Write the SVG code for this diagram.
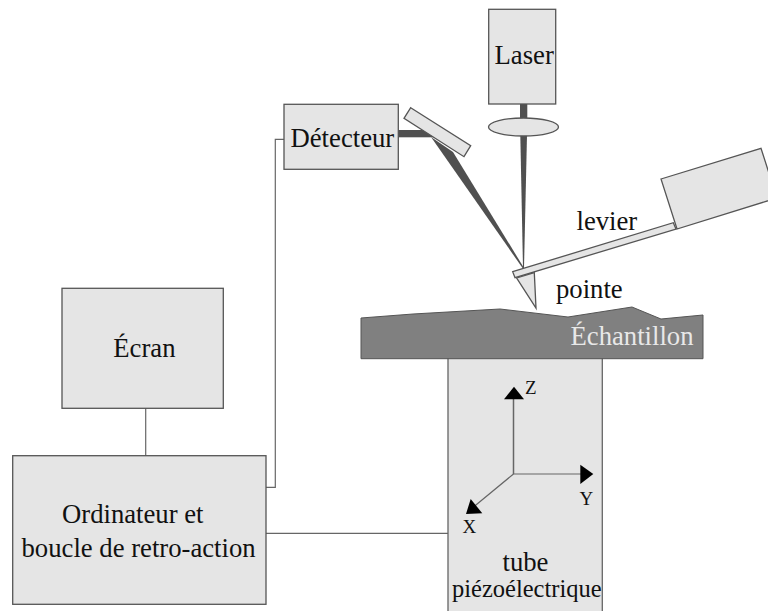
<svg xmlns="http://www.w3.org/2000/svg" width="768" height="613" viewBox="0 0 768 613">
<style>
.box{fill:#e5e5e5;stroke:#555;stroke-width:1.3}
.wire{fill:none;stroke:#666;stroke-width:1.2}
.beam{fill:#505050;stroke:none}
.axis{fill:none;stroke:#666}
.head{fill:#000;stroke:none}
text{font-family:"Liberation Serif","Times New Roman",serif;font-size:26.7px;fill:#111}
.small{font-size:19px}
</style>
<rect width="768" height="613" fill="#fff"/>
<g id="connectors">
<path class="wire" d="M145.7 408V456"/>
<path class="wire" d="M266 487.3H275.3V139.4H284"/>
<path class="wire" d="M266 533.3H448"/>
</g>
<g id="beams">
<rect class="beam" x="520" y="104" width="7.3" height="16"/>
<polygon class="beam" points="520.3,135 527,135 524,268 523,268"/>
<rect class="beam" x="398" y="130" width="36" height="7.3"/>
<polygon class="beam" points="431,137 453,152 524,268 522.5,268"/>
</g>
<g id="laser"><rect class="box" x="488.7" y="9.3" width="67" height="94.7"/><text x="494.5" y="64">Laser</text></g>
<g id="lentille"><ellipse class="box" cx="523.5" cy="127" rx="35" ry="9"/></g>
<g id="miroir"><polygon class="box" points="410.7,107.7 470.7,145.7 464,156.7 404,118.3"/></g>
<g id="detecteur"><rect class="box" x="284" y="104.3" width="114.3" height="65"/><text x="290.5" y="147.3">Détecteur</text></g>
<g id="support"><polygon class="box" points="661,179 761,148.3 777,198 677,229"/></g>
<g id="levier"><polygon class="box" points="512.7,271.7 673.3,222.7 676,229 515,277.7"/><text x="576.5" y="230">levier</text></g>
<g id="pointe"><polygon class="box" points="516.7,278 534.3,272.7 536,308"/><text x="556" y="298.3">pointe</text></g>
<g id="tube">
<path d="M448 358V611H602.3V358Z" fill="#e5e5e5"/>
<path d="M448 358V611M602.3 358V611" fill="none" stroke="#666" stroke-width="1.3"/>
<text x="502.5" y="570.7">tube</text>
<text x="452" y="597" style="font-size:24.5px">piézoélectrique</text>
</g>
<g id="echantillon">
<polygon points="361,318 413,314 500,309 568,317 632,307 661,319 703,315 703,358.7 361,358.7" fill="#808080" stroke="#555" stroke-width="1"/>
<text x="570.5" y="345.3" style="fill:#e8e8e8">Échantillon</text>
</g>
<g id="axes">
<path class="axis" stroke-width="1.5" d="M513.5 474V398"/>
<path class="axis" stroke-width="1.2" d="M513.5 474H581M513.5 474L475 505.7"/>
<polygon class="head" points="504,399.3 524,399.3 514,386.7"/>
<polygon class="head" points="580.3,464.7 593.3,474 580.3,484"/>
<polygon class="head" points="470.7,499 482.3,513.3 466,514"/>
<text class="small" x="525" y="394">Z</text>
<text class="small" x="579.5" y="505">Y</text>
<text class="small" x="462.5" y="533">X</text>
</g>
<g id="ecran"><rect class="box" x="62" y="288.3" width="161.3" height="120"/><text x="113.3" y="357.3">Écran</text></g>
<g id="ordinateur"><rect class="box" x="12.7" y="455.7" width="253.3" height="148.6"/><text x="62" y="523.3">Ordinateur et</text><text x="21.5" y="556.7">boucle de retro-action</text></g>
</svg>
